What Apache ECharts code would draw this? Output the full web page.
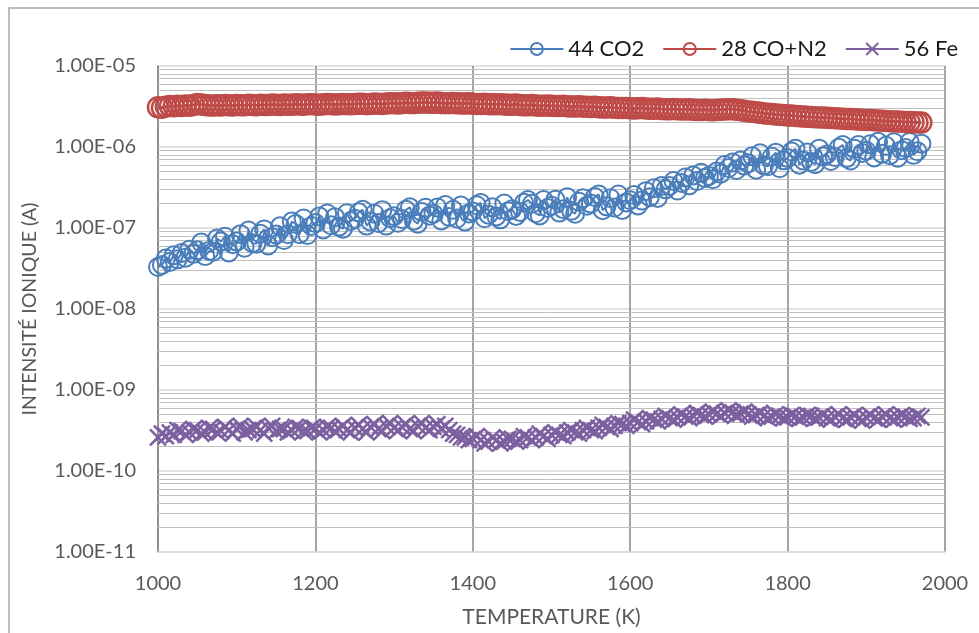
<!DOCTYPE html>
<html>
<head>
<meta charset="utf-8">
<script src="https://cdn.jsdelivr.net/npm/echarts@6/dist/echarts.min.js"></script>
<style>
  html, body { margin: 0; padding: 0; background: #fff; }
  #chart { width: 979px; height: 633px; }
</style>
</head>
<body>
<div id="chart"></div>
<script>
// temperature (K)
const temps = [
  1000, 1005, 1010, 1015, 1020, 1025, 1030, 1035, 1040, 1045,
  1050, 1055, 1060, 1065, 1070, 1075, 1080, 1085, 1090, 1095,
  1100, 1105, 1110, 1115, 1120, 1125, 1130, 1135, 1140, 1145,
  1150, 1155, 1160, 1165, 1170, 1175, 1180, 1185, 1190, 1195,
  1200, 1205, 1210, 1215, 1220, 1225, 1230, 1235, 1240, 1245,
  1250, 1255, 1260, 1265, 1270, 1275, 1280, 1285, 1290, 1295,
  1300, 1305, 1310, 1315, 1320, 1325, 1330, 1335, 1340, 1345,
  1350, 1355, 1360, 1365, 1370, 1375, 1380, 1385, 1390, 1395,
  1400, 1405, 1410, 1415, 1420, 1425, 1430, 1435, 1440, 1445,
  1450, 1455, 1460, 1465, 1470, 1475, 1480, 1485, 1490, 1495,
  1500, 1505, 1510, 1515, 1520, 1525, 1530, 1535, 1540, 1545,
  1550, 1555, 1560, 1565, 1570, 1575, 1580, 1585, 1590, 1595,
  1600, 1605, 1610, 1615, 1620, 1625, 1630, 1635, 1640, 1645,
  1650, 1655, 1660, 1665, 1670, 1675, 1680, 1685, 1690, 1695,
  1700, 1705, 1710, 1715, 1720, 1725, 1730, 1735, 1740, 1745,
  1750, 1755, 1760, 1765, 1770, 1775, 1780, 1785, 1790, 1795,
  1800, 1805, 1810, 1815, 1820, 1825, 1830, 1835, 1840, 1845,
  1850, 1855, 1860, 1865, 1870, 1875, 1880, 1885, 1890, 1895,
  1900, 1905, 1910, 1915, 1920, 1925, 1930, 1935, 1940, 1945,
  1950, 1955, 1960, 1965, 1970
];

// 44 CO2, ion current in units of 1e-8 A
const co2 = [
  3.3, 3.5, 4.2, 3.8, 4.6, 4.1, 4.9, 4.3, 5.4, 4.8,
  5.3, 6.6, 4.5, 5.2, 5.1, 7.4, 6.8, 7.8, 5.0, 6.3,
  6.8, 8.4, 5.7, 9.3, 6.5, 6.4, 8.5, 9.6, 6.1, 7.7,
  8.3, 10.5, 7.1, 8.4, 12.0, 11.2, 8.4, 13.1, 8.2, 10.6,
  11.5, 13.9, 9.6, 15.1, 10.8, 13.6, 10.4, 9.8, 15.2, 12.2,
  13.0, 15.6, 16.8, 10.7, 12.0, 15.0, 11.5, 16.6, 10.7, 13.2,
  14.0, 11.6, 12.9, 16.8, 18.0, 12.3, 11.3, 15.8, 17.8, 14.2,
  15.0, 17.9, 12.4, 19.2, 13.7, 16.8, 13.1, 18.9, 12.0, 15.1,
  16.0, 19.1, 20.4, 13.2, 14.6, 18.0, 13.9, 12.8, 20.0, 16.1,
  17.0, 14.1, 15.8, 20.5, 22.1, 19.9, 15.2, 14.3, 22.1, 17.7,
  18.8, 22.4, 15.5, 17.1, 23.9, 16.3, 15.0, 21.1, 23.3, 18.8,
  20.0, 24.1, 26.0, 16.6, 18.5, 23.3, 17.9, 25.9, 16.7, 20.7,
  22.0, 25.5, 19.0, 21.8, 28.5, 24.0, 31.0, 23.5, 33.0, 30.0,
  33.0, 38.0, 29.0, 36.0, 42.0, 33.6, 44.6, 38.0, 48.0, 41.3,
  44.0, 40.0, 50.0, 46.8, 60.0, 55.0, 64.4, 52.0, 68.0, 58.9,
  63.0, 76.7, 52.5, 83.8, 59.4, 57.8, 75.9, 85.2, 54.6, 68.4,
  73.0, 88.0, 95.3, 60.5, 67.9, 85.6, 65.5, 61.3, 95.3, 76.2,
  81.0, 67.2, 75.3, 97.7, 105.8, 72.7, 68.1, 95.0, 105.8, 84.6,
  90.0, 107.9, 74.4, 115.9, 82.8, 103.4, 79.3, 114.4, 73.9, 91.2,
  97.0, 115.6, 80.0, 88.7, 110.0
];

// 28 CO+N2, units of 1e-6 A
const coN2 = [
  3.10, 3.05, 3.15, 3.20, 3.18, 3.22, 3.20, 3.25, 3.22, 3.30,
  3.40, 3.35, 3.30, 3.25, 3.25, 3.28, 3.25, 3.30, 3.28, 3.25,
  3.30, 3.27, 3.28, 3.32, 3.30, 3.28, 3.32, 3.30, 3.30, 3.34,
  3.33, 3.30, 3.35, 3.32, 3.33, 3.36, 3.35, 3.32, 3.36, 3.38,
  3.35, 3.33, 3.36, 3.40, 3.38, 3.35, 3.36, 3.40, 3.38, 3.36,
  3.40, 3.43, 3.42, 3.38, 3.40, 3.44, 3.42, 3.40, 3.45, 3.48,
  3.46, 3.44, 3.48, 3.52, 3.50, 3.48, 3.52, 3.55, 3.55, 3.52,
  3.52, 3.55, 3.50, 3.48, 3.48, 3.50, 3.46, 3.44, 3.45, 3.47,
  3.42, 3.40, 3.40, 3.42, 3.38, 3.36, 3.36, 3.38, 3.35, 3.33,
  3.33, 3.35, 3.30, 3.28, 3.28, 3.30, 3.26, 3.24, 3.24, 3.26,
  3.22, 3.20, 3.20, 3.22, 3.18, 3.16, 3.16, 3.18, 3.15, 3.13,
  3.12, 3.14, 3.10, 3.08, 3.08, 3.10, 3.05, 3.03, 3.02, 3.04,
  3.00, 2.98, 3.00, 3.02, 2.98, 2.96, 2.96, 2.98, 2.95, 2.93,
  2.93, 2.95, 2.92, 2.90, 2.90, 2.92, 2.88, 2.86, 2.86, 2.88,
  2.85, 2.84, 2.86, 2.88, 2.90, 2.92, 2.92, 2.88, 2.85, 2.80,
  2.75, 2.72, 2.68, 2.64, 2.60, 2.58, 2.55, 2.52, 2.50, 2.48,
  2.45, 2.44, 2.42, 2.40, 2.38, 2.36, 2.35, 2.33, 2.32, 2.31,
  2.30, 2.28, 2.27, 2.25, 2.24, 2.22, 2.21, 2.20, 2.18, 2.17,
  2.16, 2.15, 2.14, 2.12, 2.11, 2.10, 2.08, 2.07, 2.06, 2.05,
  2.04, 2.03, 2.02, 2.01, 2.00
];

// 56 Fe, units of 1e-10 A
const fe = [
  2.6, 2.9, 2.7, 3.0, 2.8, 3.2, 3.1, 2.8, 3.0, 3.3,
  3.2, 2.9, 3.0, 3.4, 3.3, 3.0, 3.1, 3.5, 3.2, 2.9,
  3.3, 3.6, 3.0, 3.2, 3.3, 3.5, 3.2, 2.9, 3.4, 3.6,
  3.1, 3.3, 3.3, 3.0, 3.2, 3.5, 3.4, 3.1, 3.1, 3.4,
  3.3, 3.0, 3.2, 3.5, 3.4, 3.1, 3.3, 3.6, 3.2, 3.0,
  3.4, 3.7, 3.3, 3.0, 3.5, 3.8, 3.3, 3.1, 3.6, 3.9,
  3.4, 3.2, 3.5, 3.8, 3.3, 3.1, 3.6, 3.9, 3.4, 3.2,
  3.5, 3.8, 3.3, 3.6, 3.2, 2.9, 2.8, 2.6, 2.6, 2.4,
  2.5, 2.7, 2.4, 2.2, 2.3, 2.6, 2.4, 2.2, 2.3, 2.5,
  2.5, 2.3, 2.4, 2.7, 2.6, 2.4, 2.6, 2.9, 2.7, 2.5,
  2.8, 3.0, 2.8, 2.7, 3.0, 3.2, 3.0, 2.9, 3.2, 3.4,
  3.2, 3.1, 3.4, 3.7, 3.5, 3.3, 3.6, 3.9, 3.8, 3.6,
  3.9, 4.3, 4.0, 3.8, 4.1, 4.5, 4.3, 4.1, 4.4, 4.8,
  4.5, 4.3, 4.6, 5.0, 4.7, 4.5, 4.8, 5.2, 4.9, 4.7,
  5.0, 5.4, 5.1, 4.8, 5.2, 5.6, 5.3, 5.0, 5.1, 5.4,
  5.0, 4.7, 4.9, 5.2, 4.8, 4.5, 4.7, 5.0, 4.8, 4.5,
  4.6, 4.9, 4.7, 4.4, 4.6, 4.9, 4.8, 4.5, 4.6, 4.9,
  4.5, 4.3, 4.7, 5.0, 4.5, 4.3, 4.6, 4.9, 4.4, 4.2,
  4.6, 4.9, 4.5, 4.3, 4.7, 5.0, 4.5, 4.3, 4.6, 4.9,
  4.7, 4.4, 4.5, 4.8, 4.6
];

const seriesNames = ['44 CO2', '28 CO+N2', '56 Fe'];

const FONT = 'Lato';
const textGray = '#595959';
const blue = '#4a7ebb';
const red = '#be4b48';
const purple = '#7d60a0';

function pairs(vals, unit) {
  return temps.map((t, i) => [t, vals[i] * unit]);
}

// minor log gridlines (2..9 x 10^e), drawn across the full x range
const minorGrid = [];
for (let e = -11; e < -5; e++) {
  for (let m = 2; m <= 9; m++) {
    const v = m * Math.pow(10, e);
    minorGrid.push({ coords: [[1000, v], [2000, v]] });
  }
}

function expLabel(v) {
  const e = Math.round(Math.log10(v));
  return '1.00E' + (e < 0 ? '-' : '+') + String(Math.abs(e)).padStart(2, '0');
}

const myChart = echarts.init(document.getElementById('chart'));

const option = {
  animation: false,
  backgroundColor: '#fff',
  textStyle: { fontFamily: FONT },
  graphic: [{
    type: 'rect',
    shape: { x: 9, y: 8, width: 990, height: 650 },
    style: { fill: 'none', stroke: '#a6a6a6', lineWidth: 1.5 },
    silent: true
  }],
  legend: {
    data: seriesNames,
    right: 16,
    top: 33,
    itemWidth: 53,
    itemHeight: 15,
    itemGap: 18,
    textStyle: { fontFamily: FONT, fontSize: 22, color: '#1a1a1a' }
  },
  grid: {
    left: 158,
    right: 34,
    top: 66,
    bottom: 80
  },
  xAxis: {
    type: 'value',
    min: 1000,
    max: 2000,
    interval: 200,
    name: 'TEMPERATURE (K)',
    nameLocation: 'middle',
    nameGap: 55,
    nameTextStyle: { fontFamily: FONT, fontSize: 21, color: textGray },
    axisLine: { show: true, lineStyle: { color: '#d9d9d9', width: 1.5 } },
    axisTick: { show: false },
    axisLabel: {
      margin: 22, fontFamily: FONT, fontSize: 20, color: textGray,
      formatter: (v) => String(v)
    },
    splitLine: { show: true, lineStyle: { color: '#878787', width: 1.5 } }
  },
  yAxis: {
    type: 'log',
    logBase: 10,
    min: 1e-11,
    max: 1e-5,
    splitNumber: 6,
    name: 'INTENSITÉ IONIQUE (A)',
    nameLocation: 'middle',
    nameGap: 118,
    nameRotate: 90,
    nameTextStyle: { fontFamily: FONT, fontSize: 19.5, color: textGray },
    axisLine: { show: true, lineStyle: { color: '#878787', width: 1.5 } },
    axisTick: { show: false },
    axisLabel: {
      margin: 22,
      fontFamily: FONT,
      fontSize: 20,
      color: textGray,
      formatter: expLabel
    },
    splitLine: { show: true, lineStyle: { color: '#d9d9d9', width: 1.5 } }
  },
  series: [
    {
      name: 'minor-grid',
      type: 'lines',
      coordinateSystem: 'cartesian2d',
      z: 1,
      silent: true,
      lineStyle: { color: '#bfbfbf', width: 1, opacity: 1 },
      data: minorGrid
    },
    {
      name: seriesNames[0],
      type: 'line',
      z: 3,
      data: pairs(co2, 1e-8),
      symbol: 'circle',
      symbolSize: 18,
      showAllSymbol: true,
      itemStyle: { color: 'rgba(0,0,0,0)', borderColor: blue, borderWidth: 2 },
      lineStyle: { color: blue, width: 2 }
    },
    {
      name: seriesNames[1],
      type: 'line',
      z: 3,
      data: pairs(coN2, 1e-6),
      symbol: 'circle',
      symbolSize: 20,
      showAllSymbol: true,
      itemStyle: { color: 'rgba(0,0,0,0)', borderColor: red, borderWidth: 2.5 },
      lineStyle: { color: red, width: 3 }
    },
    {
      name: seriesNames[2],
      type: 'line',
      z: 3,
      data: pairs(fe, 1e-10),
      symbol: 'path://M0,0L10,10M10,0L0,10',
      symbolSize: 16,
      showAllSymbol: true,
      itemStyle: { color: purple, borderColor: purple, borderWidth: 2.5 },
      lineStyle: { color: purple, width: 3 }
    }
  ]
};

myChart.setOption(option);
</script>
</body>
</html>
